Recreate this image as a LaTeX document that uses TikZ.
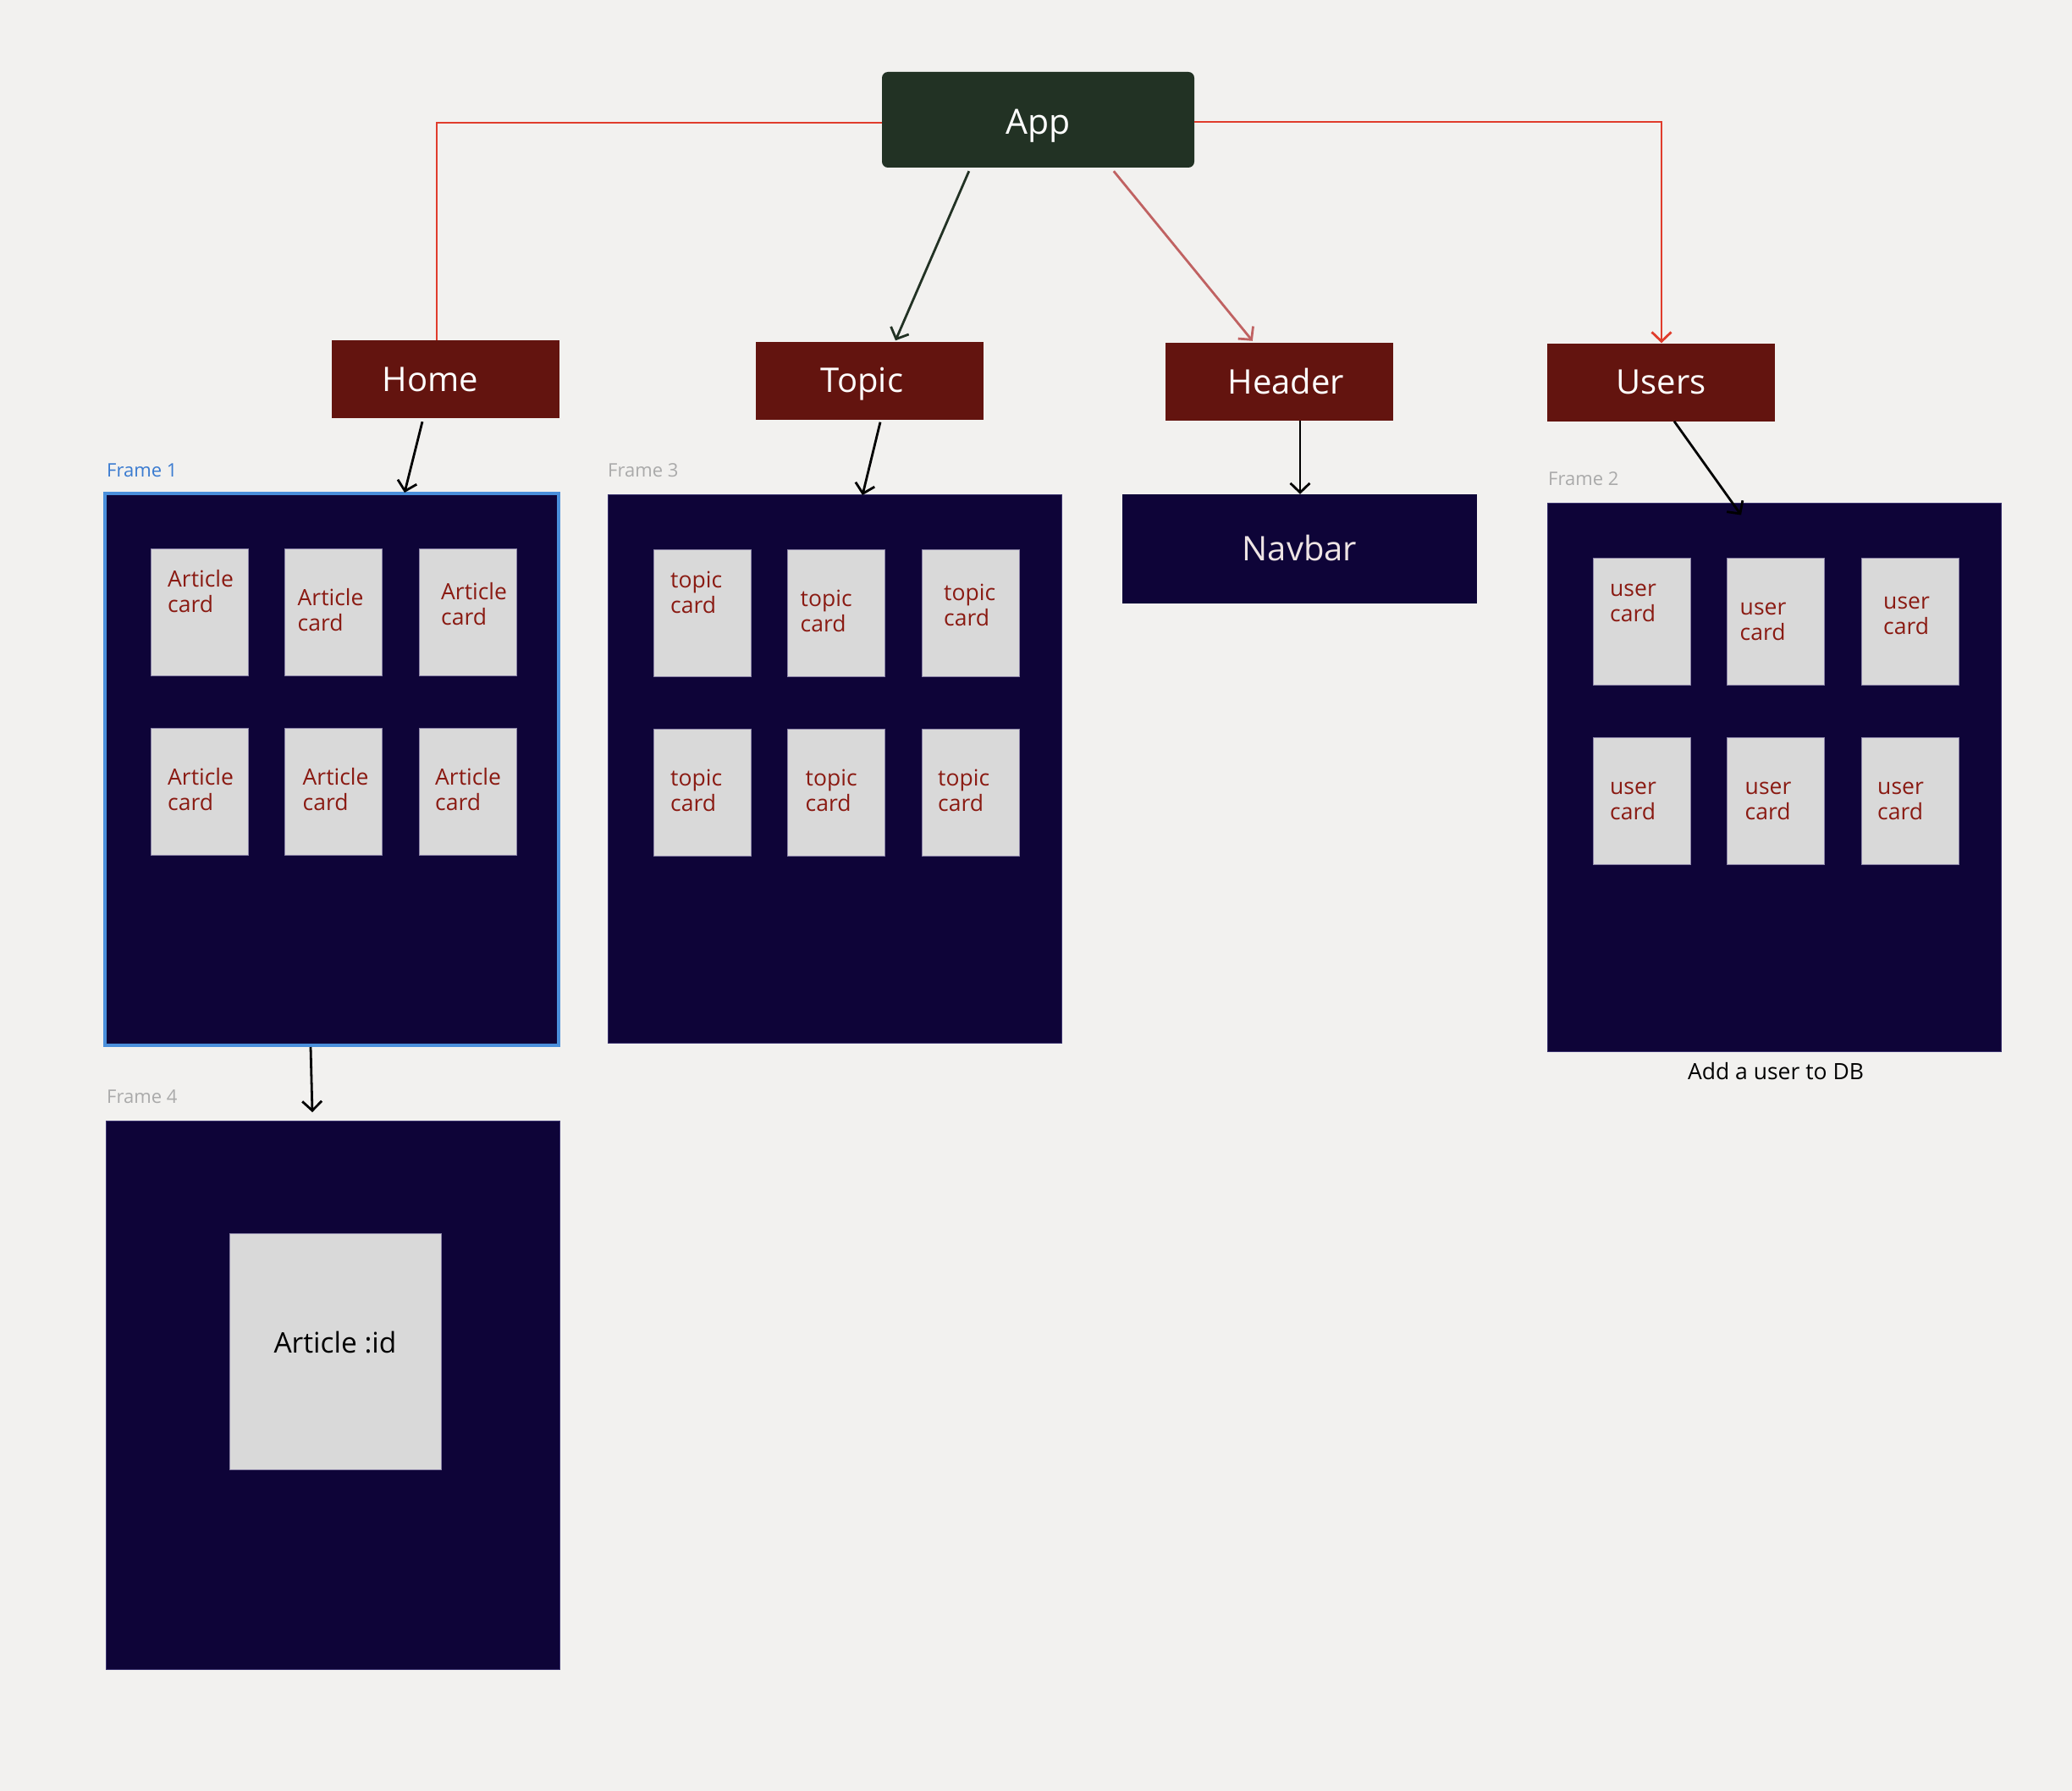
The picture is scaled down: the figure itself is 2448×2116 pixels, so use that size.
\documentclass[tikz,border=0pt]{standalone}
\usepackage{fontspec}
\setmainfont{Open Sans}
\usetikzlibrary{arrows.meta}

\definecolor{bgcol}{HTML}{F2F1EF}
\definecolor{appcol}{HTML}{223224}
\definecolor{boxred}{HTML}{63140F}
\definecolor{framecol}{HTML}{0E0438}
\definecolor{frameedge}{HTML}{3C3470}
\definecolor{cardgray}{HTML}{D9D9D9}
\definecolor{cardedge}{HTML}{8C84A8}
\definecolor{cardred}{HTML}{8A1A12}
\definecolor{linered}{HTML}{E03C2C}
\definecolor{rosecol}{HTML}{C06262}
\definecolor{frameblue}{HTML}{4A8FDB}
\definecolor{labelblue}{HTML}{3A7BD0}
\definecolor{labelgray}{HTML}{AAAAAA}
\definecolor{navtext}{HTML}{EEE4E4}

\tikzset{
  comp/.style={fill=boxred, text=white, inner sep=0pt, minimum width=269pt, minimum height=92pt,
               text height=28pt, text depth=0pt, font=\fontsize{40}{48}\selectfont},
  framebox/.style={fill=framecol, draw=frameedge, line width=0.8pt, inner sep=0pt, outer sep=0pt,
                   minimum width=536pt, minimum height=648pt},
  card/.style={fill=cardgray, draw=cardedge, line width=0.8pt, inner sep=0pt, outer sep=0pt,
               minimum width=115pt, minimum height=150pt},
  cardtxt/.style={text=cardred, inner sep=0pt, align=left, font=\fontsize{26.5}{30}\selectfont},
  framelabel/.style={text=labelgray, inner sep=0pt, font=\fontsize{22}{26}\selectfont},
  arr/.style={line width=2.8pt, -{Straight Barb[length=11pt,width=23pt]}},
  redline/.style={draw=linered, line width=2.8pt}
}

\begin{document}
\begin{tikzpicture}[x=1pt, y=-1pt]
  \useasboundingbox (0,0) rectangle (2448,2116);
  \fill[bgcol] (0,0) rectangle (2448,2116);

  % top row
  \node[fill=appcol, text=white, rounded corners=7pt, inner sep=0pt, minimum width=369pt, minimum height=113pt,
        text height=35pt, text depth=0pt, font=\fontsize{41}{49}\selectfont] (app) at (1226.5,141.5) {App};
  \node[comp] (home) at (526.5,448) {Home\hspace{36pt}\mbox{}};
  \node[comp] (topic) at (1027.5,449.5) {Topic\hspace{18pt}\mbox{}};
  \node[comp] (header) at (1511.5,451) {\hspace{16pt}Header};
  \node[comp] (users) at (1962.5,451.5) {Users};

  % frames
  \node[framebox, draw=frameblue, line width=4pt, minimum height=652pt] (f1) at (392,909) {};
  \node[framebox] (f3) at (986,908) {};
  \node[framebox] (f2) at (2096,918.5) {};
  \node[framebox] (f4) at (393,1648) {};
  \node[fill=framecol, text=navtext, inner sep=0pt, minimum width=419pt, minimum height=129pt,
        text height=28pt, text depth=0pt, font=\fontsize{40}{48}\selectfont] (navbar) at (1535.5,648.5) {Navbar};

  \node[framelabel, text=labelblue, anchor=base west] (l1) at ([shift={(2,-20)}]f1.north west) {Frame 1};
  \node[framelabel, anchor=base west] (l3) at ([shift={(0,-21)}]f3.north west) {Frame 3};
  \node[framelabel, anchor=base west] (l2) at ([shift={(1,-21)}]f2.north west) {Frame 2};
  \node[framelabel, anchor=base west] (l4) at ([shift={(1,-21)}]f4.north west) {Frame 4};

  % cards
  \foreach \fr/\nm in {f1/Article, f3/topic, f2/user} {
    \foreach \col/\row/\dx/\dy [count=\k] in {0/0/20/75, 1/0/15/97, 2/0/26/90, 0/1/20/97, 1/1/21/97, 2/1/19/97} {
      \node[card, anchor=north west] (\fr-c\k) at ([shift={(54+158.5*\col,65+212*\row)}]\fr.north west) {};
      \node[cardtxt, anchor=base west] at ([shift={(\dx,\dy)}]\fr-c\k.north west) {\nm\\card};
    }
  }
  \node[card, minimum width=250pt, minimum height=279pt, text height=24pt, text depth=21pt,
        font=\fontsize{33.5}{40}\selectfont] (artid) at (396,1596.5) {Article :id};
  \node[inner sep=0pt, anchor=base, font=\fontsize{26.5}{32}\selectfont] (addusr)
        at ([shift={(2,33)}]f2.south) {Add a user to DB};

  % connectors
  \draw[redline] ([shift={(0,3.5)}]app.west) -| ([shift={(-10.5,0)}]home.north);
  \draw[redline, arr] ([shift={(0,2.5)}]app.east) -| ([shift={(0.5,0)}]users.north);
  \draw[arr, appcol] ([shift={(103,4)}]app.south west) -- ([shift={(30.5,-1)}]topic.north);
  \draw[arr, rosecol] ([shift={(274,4)}]app.south west) -- ([shift={(103,-2)}]header.north west);
  \draw[arr] ([shift={(-27.5,4)}]home.south) -- ([shift={(86,-1)}]f1.north);
  \draw[arr] ([shift={(12.5,3)}]topic.south) -- ([shift={(33,1)}]f3.north);
  \draw[arr] ([shift={(24.5,0)}]header.south) -- ([shift={(0.5,0)}]navbar.north);
  \draw[arr] ([shift={(15.5,0)}]users.south) -- ([shift={(-39,14)}]f2.north);
  \draw[arr] ([shift={(-25,2)}]f1.south) -- ([shift={(-24,-10)}]f4.north);
\end{tikzpicture}
\end{document}
